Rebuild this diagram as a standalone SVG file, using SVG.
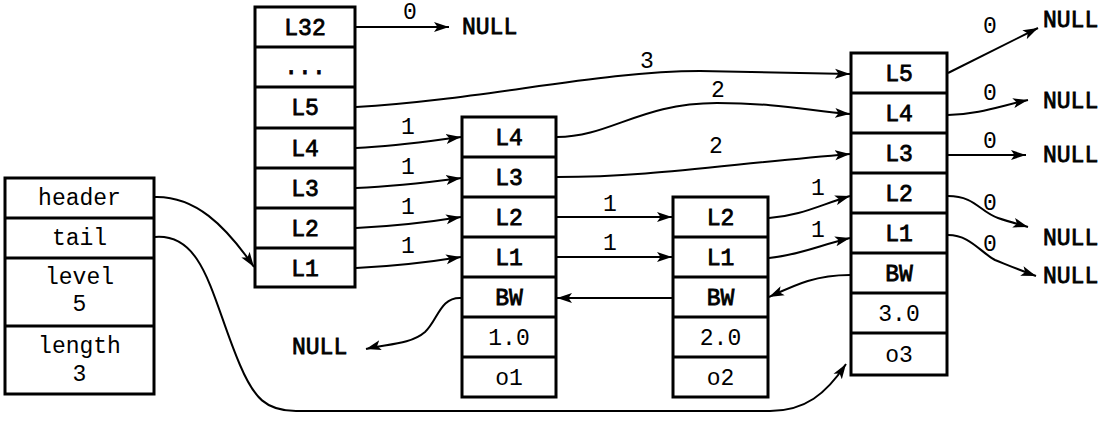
<svg xmlns="http://www.w3.org/2000/svg" width="1112" height="422" viewBox="0 0 1112 422">
<style>
.box{fill:#fff;stroke:#000;stroke-width:3}
.div{stroke:#000;stroke-width:3}
.t{font-family:"Liberation Mono","DejaVu Sans Mono",monospace;font-size:23px;fill:#000;text-anchor:middle}
.b{stroke:#000;stroke-width:0.8}
.c{fill:none;stroke:#000;stroke-width:2;marker-end:url(#ah)}
.n{font-family:"Liberation Mono","DejaVu Sans Mono",monospace;font-size:23px;fill:#000;stroke:#000;stroke-width:0.8}
</style>
<defs>
<marker id="ah" markerWidth="16" markerHeight="11" refX="15" refY="5.5" orient="auto" markerUnits="userSpaceOnUse">
<path d="M0,0.5 L15,5.5 L0,10.5 L3.5,5.5 z" fill="#000"/>
</marker>
</defs>
<rect width="1112" height="422" fill="#fff"/>

<g id="zskiplist">
<rect class="box" x="5" y="178" width="149" height="216"/>
<line class="div" x1="5" y1="218" x2="154" y2="218"/>
<line class="div" x1="5" y1="258" x2="154" y2="258"/>
<line class="div" x1="5" y1="326" x2="154" y2="326"/>
<text class="t" x="79.5" y="205">header</text>
<text class="t" x="79.5" y="245">tail</text>
<text class="t" x="79.5" y="284">level</text>
<text class="t" x="79.5" y="311">5</text>
<text class="t" x="79.5" y="353">length</text>
<text class="t" x="79.5" y="381">3</text>
</g>

<g id="header">
<rect class="box" x="255" y="7" width="100" height="280"/>
<line class="div" x1="255" y1="47" x2="355" y2="47"/>
<line class="div" x1="255" y1="87" x2="355" y2="87"/>
<line class="div" x1="255" y1="128" x2="355" y2="128"/>
<line class="div" x1="255" y1="168" x2="355" y2="168"/>
<line class="div" x1="255" y1="208" x2="355" y2="208"/>
<line class="div" x1="255" y1="248" x2="355" y2="248"/>
<text class="t b" x="305" y="35">L32</text>
<text class="t b" x="305" y="74">...</text>
<text class="t b" x="305" y="115">L5</text>
<text class="t b" x="305" y="156">L4</text>
<text class="t b" x="305" y="196">L3</text>
<text class="t b" x="305" y="236">L2</text>
<text class="t b" x="305" y="276">L1</text>
</g>

<g id="node1">
<rect class="box" x="462" y="117" width="94" height="280"/>
<line class="div" x1="462" y1="157" x2="556" y2="157"/>
<line class="div" x1="462" y1="197" x2="556" y2="197"/>
<line class="div" x1="462" y1="237" x2="556" y2="237"/>
<line class="div" x1="462" y1="277" x2="556" y2="277"/>
<line class="div" x1="462" y1="317" x2="556" y2="317"/>
<line class="div" x1="462" y1="357" x2="556" y2="357"/>
<text class="t b" x="509" y="145">L4</text>
<text class="t b" x="509" y="185">L3</text>
<text class="t b" x="509" y="225">L2</text>
<text class="t b" x="509" y="265">L1</text>
<text class="t b" x="509" y="305">BW</text>
<text class="t" x="509" y="345">1.0</text>
<text class="t" x="509" y="385">o1</text>
</g>

<g id="node2">
<rect class="box" x="673" y="197" width="95" height="200"/>
<line class="div" x1="673" y1="237" x2="768" y2="237"/>
<line class="div" x1="673" y1="277" x2="768" y2="277"/>
<line class="div" x1="673" y1="317" x2="768" y2="317"/>
<line class="div" x1="673" y1="357" x2="768" y2="357"/>
<text class="t b" x="720.5" y="225">L2</text>
<text class="t b" x="720.5" y="265">L1</text>
<text class="t b" x="720.5" y="305">BW</text>
<text class="t" x="720.5" y="345">2.0</text>
<text class="t" x="720.5" y="385">o2</text>
</g>

<g id="node3">
<rect class="box" x="851" y="53" width="96" height="322"/>
<line class="div" x1="851" y1="93" x2="947" y2="93"/>
<line class="div" x1="851" y1="133" x2="947" y2="133"/>
<line class="div" x1="851" y1="173" x2="947" y2="173"/>
<line class="div" x1="851" y1="213" x2="947" y2="213"/>
<line class="div" x1="851" y1="253" x2="947" y2="253"/>
<line class="div" x1="851" y1="293" x2="947" y2="293"/>
<line class="div" x1="851" y1="333" x2="947" y2="333"/>
<text class="t b" x="899" y="81">L5</text>
<text class="t b" x="899" y="121">L4</text>
<text class="t b" x="899" y="161">L3</text>
<text class="t b" x="899" y="201">L2</text>
<text class="t b" x="899" y="241">L1</text>
<text class="t b" x="899" y="281">BW</text>
<text class="t" x="899" y="321">3.0</text>
<text class="t" x="899" y="362">o3</text>
</g>

<g id="connectors">
<path class="c" d="M155,197 C195,196 225,225 254,267"/>
<path class="c" d="M155,237 C205,233 212,300 240,365 C254,398 266,411 296,411 L770,411 C805,411 826,394 846,364"/>
<path class="c" d="M356,27 L449,27"/>
<path class="c" d="M356,107 C480,100 600,71 700,71 L850,74"/>
<path class="c" d="M356,148 C400,146 430,141 461,137"/>
<path class="c" d="M356,188 C400,186 430,182 461,178"/>
<path class="c" d="M356,228 C400,226 430,222 461,217"/>
<path class="c" d="M356,268 C400,266 430,262 461,257"/>
<path class="c" d="M557,137 C610,137 640,103 717,103 C780,103 810,111 850,114"/>
<path class="c" d="M557,177 C650,177 720,165 850,154"/>
<path class="c" d="M557,217 L672,217"/>
<path class="c" d="M557,257 L672,257"/>
<path class="c" d="M672,298 L557,298"/>
<path class="c" d="M461,298 C440,297 438,320 425,332 C410,345 385,344 366,349"/>
<path class="c" d="M769,218 C800,216 820,205 850,196"/>
<path class="c" d="M769,258 C800,255 820,245 850,238"/>
<path class="c" d="M850,275 C815,275 795,285 769,297"/>
<path class="c" d="M948,73 L1038,28"/>
<path class="c" d="M948,115 C980,114 1000,106 1028,100"/>
<path class="c" d="M948,155 L1026,155"/>
<path class="c" d="M948,196 C975,196 980,212 998,218 C1010,222 1018,224 1028,227"/>
<path class="c" d="M948,235 C970,235 980,252 995,260 C1010,266 1022,271 1036,276"/>

<text class="t" x="410" y="19">0</text>
<text class="n" x="462" y="34">NULL</text>
<text class="t" x="647" y="68">3</text>
<text class="t" x="408" y="134">1</text>
<text class="t" x="408" y="174">1</text>
<text class="t" x="408" y="214">1</text>
<text class="t" x="408" y="253">1</text>
<text class="t" x="718" y="97">2</text>
<text class="t" x="716" y="153">2</text>
<text class="t" x="610" y="211">1</text>
<text class="t" x="610" y="250">1</text>
<text class="t" x="818" y="195">1</text>
<text class="t" x="818" y="237">1</text>
<text class="n" x="292" y="354">NULL</text>
<text class="t" x="990" y="33">0</text>
<text class="t" x="990" y="100">0</text>
<text class="t" x="990" y="148">0</text>
<text class="t" x="990" y="210">0</text>
<text class="t" x="990" y="251">0</text>
<text class="n" x="1043" y="27">NULL</text>
<text class="n" x="1043" y="108">NULL</text>
<text class="n" x="1043" y="162">NULL</text>
<text class="n" x="1043" y="245">NULL</text>
<text class="n" x="1043" y="283">NULL</text>
</g>
</svg>
